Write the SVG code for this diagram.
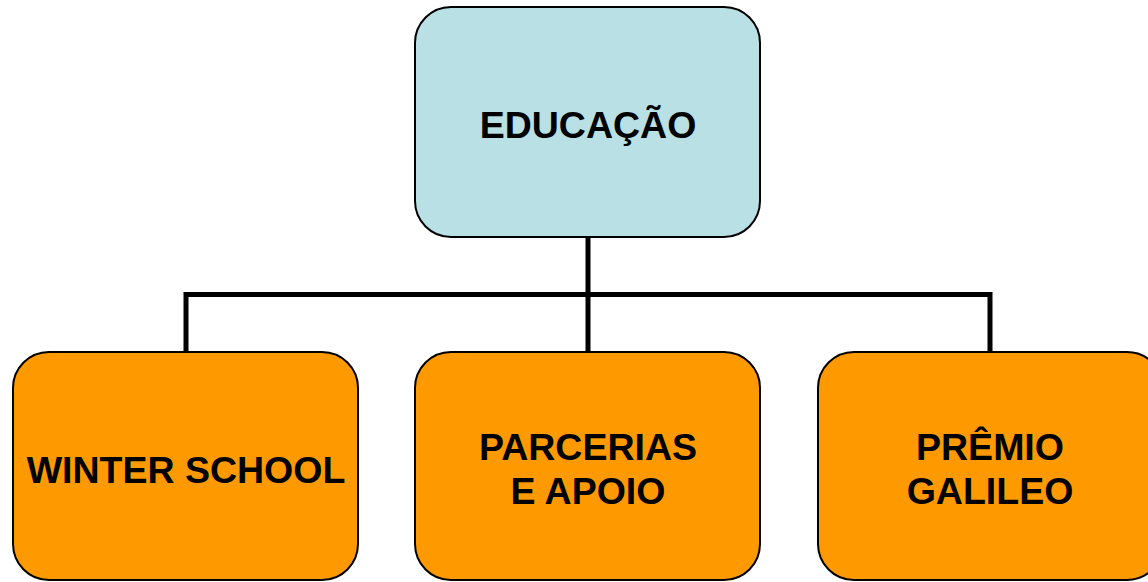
<svg xmlns="http://www.w3.org/2000/svg" width="1148" height="582" viewBox="0 0 1148 582">
<style>
.box{stroke:#000;stroke-width:2}
.top{fill:#b9e0e4}
.child{fill:#ff9900}
.lbl{font-family:"Liberation Sans",Arial,sans-serif;font-weight:bold;font-size:37.5px;text-anchor:middle;fill:#000}
.conn{fill:none;stroke:#000;stroke-width:5}
</style>
<rect width="1148" height="582" fill="#fff"/>
<g id="connectors">
<path class="conn" d="M588 237V294.5M186 352V294.5H990V352M588 294.5V352"/>
</g>
<g id="educacao">
<rect class="box top" x="415" y="7" width="345" height="230" rx="36" ry="36"/>
<text class="lbl" x="588" y="138">EDUCAÇÃO</text>
</g>
<g id="winter-school">
<rect class="box child" x="13" y="352" width="345" height="228" rx="36" ry="36"/>
<text class="lbl" x="186" y="483">WINTER SCHOOL</text>
</g>
<g id="parcerias">
<rect class="box child" x="415" y="352" width="345" height="228" rx="36" ry="36"/>
<text class="lbl" x="588" y="460">PARCERIAS</text>
<text class="lbl" x="588" y="504">E APOIO</text>
</g>
<g id="premio">
<rect class="box child" x="818" y="352" width="345" height="228" rx="36" ry="36"/>
<text class="lbl" x="990" y="460">PRÊMIO</text>
<text class="lbl" x="990" y="504">GALILEO</text>
</g>
</svg>
